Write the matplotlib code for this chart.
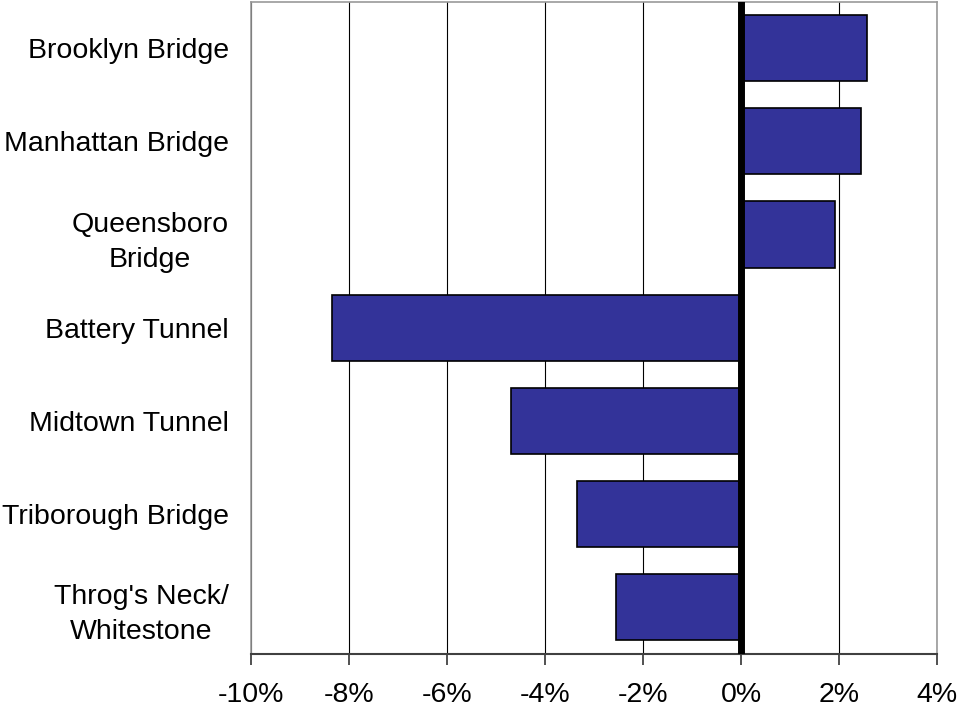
import matplotlib.pyplot as plt
from matplotlib.ticker import FuncFormatter

plt.rcParams['font.family'] = ['Liberation Sans', 'DejaVu Sans']

crossings = ["Brooklyn Bridge", "Manhattan Bridge", "Queensboro\nBridge",
             "Battery Tunnel", "Midtown Tunnel", "Triborough Bridge",
             "Throg's Neck/\nWhitestone"]
change_pct = [2.57, 2.45, 1.92, -8.35, -4.69, -3.35, -2.55]
xticks = [-10, -8, -6, -4, -2, 0, 2, 4]

fig = plt.figure(figsize=(9.6, 7.1), dpi=100)
ax = fig.add_axes([251 / 960, 1 - 654 / 710, (937 - 251) / 960, 652.5 / 710])

pos = list(range(len(crossings)))
ax.barh(pos, change_pct, height=0.71, color="#333399", edgecolor="black",
        linewidth=1.2, zorder=3)
ax.axvline(0, color="black", linewidth=5, zorder=4)

ax.set_xlim(-10, 4)
ax.set_ylim(len(crossings) - 0.5, -0.5)
ax.set_xticks(xticks)
ax.xaxis.set_major_formatter(FuncFormatter(lambda v, p: f"{v:.0f}%"))
ax.grid(axis="x", color="black", linewidth=0.8, zorder=0)

ax.set_yticks(pos)
ax.set_yticklabels(crossings, ha="right", multialignment="center",
                   linespacing=1.45)
ax.tick_params(axis="y", length=0, pad=16, labelsize=20.5)
ax.tick_params(axis="x", length=8, width=1.2, color="#333333",
               pad=12, labelsize=20.5, direction="out")

for side in ["top", "left", "right"]:
    ax.spines[side].set_color("#999999")
    ax.spines[side].set_linewidth(1.2)
ax.spines["bottom"].set_color("#404040")
ax.spines["bottom"].set_linewidth(1.5)

plt.savefig("out.png", dpi=100)
plt.close()
